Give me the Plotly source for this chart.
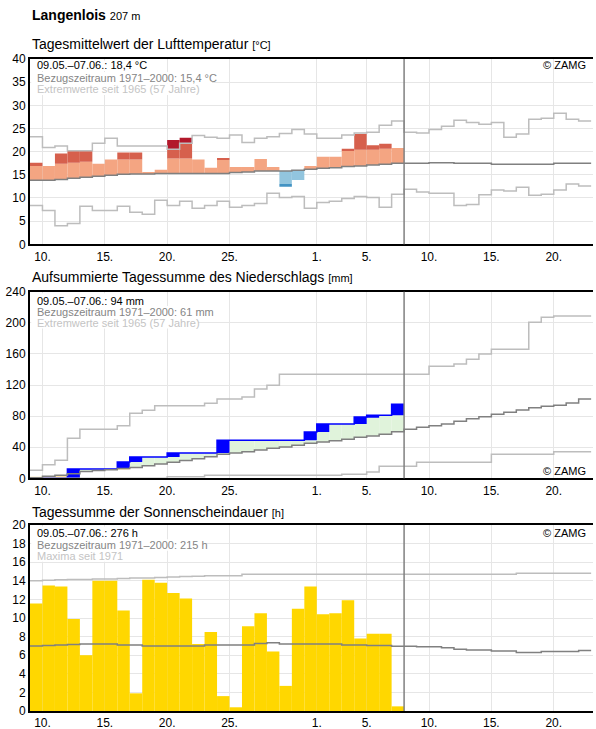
import plotly.graph_objects as go
import numpy as np

# ---------------- data ----------------
tick_vals = [1, 6, 11, 16, 23, 27, 32, 37, 42]
tick_text = ["10.", "15.", "20.", "25.", "1.", "5.", "10.", "15.", "20."]

# Temperature (°C), daily mean 09.05.-07.06.
temp = [17.6, 16.9, 19.6, 20.2, 20.2, 17.4, 18.3, 19.8, 19.8, 15.5,
        16.1, 22.5, 23.0, 18.3, 16.5, 18.6, 16.7, 16.7, 18.4, 16.7,
        12.4, 13.9, 16.9, 18.9, 18.9, 20.6, 23.8, 21.4, 21.7, 20.8]
temp_upper = [16.9, 17.0, 17.4, 17.6, 17.8, 17.9, 18.3, 18.3, 18.3, 18.4,
              18.5, 18.5, 18.5, 18.5, 18.5, 18.2, 18.6, 18.8, 18.9, 19.0,
              19.0, 19.2, 19.4, 19.6, 19.8, 20.2, 20.4, 20.4, 20.6, 20.9]
temp_lower = [10.9, 10.9, 11.1, 11.3, 11.6, 11.8, 12.0, 12.2, 12.3, 12.3,
              12.4, 12.4, 12.4, 12.4, 12.4, 12.4, 12.6, 12.7, 12.9, 12.9,
              13.0, 13.1, 13.3, 13.5, 13.6, 13.9, 14.0, 14.2, 14.4, 14.6]
temp_clim = [13.8, 13.8, 14.0, 14.25, 14.5, 14.7, 14.9, 15.1, 15.2, 15.2,
             15.3, 15.3, 15.3, 15.3, 15.3, 15.3, 15.5, 15.6, 15.8, 15.8,
             15.8, 16.0, 16.2, 16.4, 16.55, 16.8, 16.9, 17.1, 17.3, 17.5,
             17.5, 17.5, 17.6, 17.6, 17.5, 17.5, 17.5, 17.3, 17.3, 17.3,
             17.3, 17.3, 17.5, 17.5, 17.5]
temp_max = [23.2, 20.9, 21.2, 20.2, 20.2, 21.8, 22.9, 21.2, 21.2, 21.2,
            21.2, 20.5, 21.8, 23.5, 23.1, 22.9, 23.6, 22.0, 22.9, 23.2,
            23.9, 24.8, 23.8, 22.9, 22.9, 23.6, 24.0, 24.2, 25.7, 26.6,
            24.2, 24.0, 24.8, 25.5, 26.8, 26.3, 25.9, 26.3, 23.1, 23.8,
            27.0, 27.2, 28.3, 27.0, 26.6]
temp_min = [8.4, 7.3, 4.0, 4.5, 8.2, 7.3, 7.3, 8.2, 6.9, 6.5,
            9.5, 8.4, 9.3, 7.8, 8.4, 9.3, 8.0, 8.4, 8.8, 11.0,
            10.1, 10.3, 7.8, 9.0, 9.3, 9.9, 10.3, 10.1, 8.0, 10.8,
            11.9, 11.3, 11.0, 11.0, 8.4, 8.6, 10.7, 11.7, 11.5, 12.3,
            10.6, 10.8, 11.7, 13.0, 12.6]

# Precipitation (mm), daily sums, accumulated
precip_daily = [0, 0, 0, 12.0, 0, 0, 0, 9.0, 6.4, 0,
                0, 5.1, 0, 0, 0, 16.3, 0, 0, 0, 0,
                0, 0, 10.7, 10.3, 0, 0, 9.0, 2.4, 0, 14.0]
precip_clim = [0.8, 2.5, 3.8, 5.9, 8.6, 9.9, 11.1, 12.5, 14.0, 16.0,
               18.5, 20.5, 23.0, 25.3, 27.6, 31.0, 32.5, 34.2, 36.4, 38.6,
               40.3, 42.4, 45.0, 46.7, 48.4, 50.1, 52.7, 54.4, 56.6, 60.0,
               63.0, 65.6, 67.7, 69.8, 73.3, 76.7, 79.3, 82.3, 84.9, 87.8,
               90.8, 92.6, 93.9, 96.8, 102.0]
precip_max = [10.3, 17.5, 23.1, 51.4, 63.0, 63.0, 63.0, 67.7, 83.6, 87.4,
              93.4, 93.4, 93.4, 93.4, 96.4, 102.0, 102.0, 104.5, 114.7, 119.8,
              133.8, 133.8, 133.8, 133.8, 133.8, 133.8, 133.8, 133.8, 133.8, 133.8,
              133.8, 133.8, 144.0, 144.0, 147.0, 153.0, 160.0, 166.0, 166.0, 166.0,
              200.6, 207.0, 208.7, 208.7, 208.7]
precip_min = [0, 0, 0, 0, 0, 0, 0, 0, 0, 0,
              0, 2.0, 2.0, 2.0, 4.0, 4.0, 4.0, 4.0, 4.0, 4.0,
              4.0, 4.0, 4.0, 4.0, 4.0, 5.1, 5.1, 8.1, 15.5, 15.5,
              15.5, 20.5, 20.5, 20.5, 20.5, 20.5, 20.5, 30.8, 30.8, 30.8,
              30.8, 30.8, 34.2, 34.2, 34.2]

# Sunshine duration (h)
sun = [11.55, 13.5, 13.4, 9.9, 6.0, 14.0, 14.0, 10.8, 1.9, 14.1,
       13.8, 12.7, 12.1, 7.2, 8.5, 1.6, 0.4, 9.1, 10.5, 6.4,
       2.7, 11.0, 13.4, 10.4, 10.5, 11.9, 7.8, 8.3, 8.3, 0.5]
sun_clim = [7.0, 7.05, 7.1, 7.15, 7.2, 7.2, 7.2, 7.1, 7.1, 7.0,
            7.0, 7.0, 7.0, 7.0, 7.1, 7.1, 7.1, 7.1, 7.25, 7.35,
            7.2, 7.2, 7.2, 7.2, 7.2, 7.1, 7.1, 7.05, 7.05, 6.95,
            6.97, 6.9, 6.9, 6.8, 6.65, 6.55, 6.55, 6.45, 6.45, 6.3,
            6.3, 6.4, 6.4, 6.4, 6.5]
sun_max = [14.0, 14.05, 14.1, 14.15, 14.15, 14.2, 14.2, 14.25, 14.3, 14.3,
           14.35, 14.4, 14.45, 14.5, 14.55, 14.55, 14.55, 14.7, 14.7, 14.7,
           14.7, 14.7, 14.7, 14.7, 14.7, 14.7, 14.7, 14.7, 14.7, 14.7,
           14.7, 14.7, 14.7, 14.7, 14.7, 14.7, 14.7, 14.7, 14.7, 14.82,
           14.82, 14.82, 14.82, 14.82, 14.82]

# ---------------- layout helpers ----------------
W, H = 596, 729
L, R = 30, 3
FONT = "Liberation Sans, Arial, Helvetica, sans-serif"
C_CLIM = "#808080"
C_EXT = "#bdbdbd"


def py(px):
    return (H - px) / H


def pxx(px):
    return (px - L) / (W - L - R)


fig = go.Figure()


def step_line(vals, color, width, xa, ya):
    n = len(vals)
    fig.add_trace(go.Scatter(
        x=list(range(n + 1)), y=list(vals) + [vals[-1]], mode="lines",
        line=dict(color=color, width=width, shape="hv"),
        xaxis=xa, yaxis=ya, hoverinfo="skip", showlegend=False))


def bar_set(segments, color, xa, ya):
    segs = [(i, b, t) for (i, b, t) in segments if t - b > 1e-9]
    if not segs:
        return
    fig.add_trace(go.Bar(
        x=[i + 0.5 for i, _, _ in segs], y=[t - b for _, b, t in segs],
        base=[b for _, b, _ in segs], width=1,
        marker=dict(color=color, line=dict(width=0)),
        xaxis=xa, yaxis=ya, hoverinfo="skip", showlegend=False))


# ---------------- panel 1: temperature ----------------
light_r, red, dark_r, light_b, blue = [], [], [], [], []
for i, T in enumerate(temp):
    c, hi, lo, mx = temp_clim[i], temp_upper[i], temp_lower[i], temp_max[i]
    if T >= c:
        light_r.append((i, c, min(T, hi)))
        if T > hi:
            red.append((i, hi, min(T, mx)))
        if T > mx:
            dark_r.append((i, mx, T))
    else:
        light_b.append((i, max(T, lo), c))
        if T < lo:
            blue.append((i, T, lo))
bar_set(light_r, "#F4A582", "x", "y")
bar_set(red, "#D6604D", "x", "y")
bar_set(dark_r, "#B2182B", "x", "y")
bar_set(light_b, "#92C5DE", "x", "y")
bar_set(blue, "#4393C3", "x", "y")
step_line(temp_max, C_EXT, 1.5, "x", "y")
step_line(temp_min, C_EXT, 1.5, "x", "y")
step_line(temp_clim, C_CLIM, 1.5, "x", "y")

# ---------------- panel 2: precipitation ----------------
cum = np.cumsum(precip_daily)
prev = np.concatenate([[0.0], cum[:-1]])
green, yellow, blocks = [], [], []
for i in range(len(cum)):
    c = precip_clim[i]
    if prev[i] > c:
        green.append((i, c, prev[i]))
    else:
        yellow.append((i, prev[i], c))
    if precip_daily[i] > 0:
        blocks.append((i, prev[i], cum[i]))
bar_set(green, "#E0F3DB", "x2", "y2")
bar_set(yellow, "#FFE3A3", "x2", "y2")
bar_set(blocks, "#0000FF", "x2", "y2")
step_line(list(cum), "#0000FF", 1.5, "x2", "y2")
step_line(precip_max, C_EXT, 1.5, "x2", "y2")
step_line(precip_min, C_EXT, 1.5, "x2", "y2")
step_line(precip_clim, C_CLIM, 1.5, "x2", "y2")

# ---------------- panel 3: sunshine ----------------
bar_set([(i, 0, v) for i, v in enumerate(sun)], "#FFD700", "x3", "y3")
step_line(sun_max, C_EXT, 1.5, "x3", "y3")
step_line(sun_clim, C_CLIM, 1.5, "x3", "y3")

# ---------------- axes ----------------
domains = {
    1: (59, 244.3),
    2: (291.7, 478.3),
    3: (525, 711),
}
yranges = {1: ([0, 40], 5), 2: ([0, 240], 40), 3: ([0, 20], 2)}

layout = dict(
    width=W, height=H,
    margin=dict(l=L, r=R, t=0, b=0, autoexpand=False),
    paper_bgcolor="white", plot_bgcolor="white",
    font=dict(family=FONT, color="black", size=12),
    barmode="overlay", showlegend=False,
)
for k in (1, 2, 3):
    top, bot = domains[k]
    sx = "" if k == 1 else str(k)
    layout["xaxis" + sx] = dict(
        domain=[0, 1], anchor="y" + sx, range=[0, 45.15],
        tickmode="array", tickvals=tick_vals, ticktext=tick_text,
        showgrid=True, gridcolor="#e6e6e6", gridwidth=1,
        showline=True, linecolor="black", linewidth=2, mirror=True,
        ticks="", zeroline=False, tickfont=dict(size=12, color="black"),
        fixedrange=True)
    rng, dt = yranges[k]
    layout["yaxis" + sx] = dict(
        domain=[py(bot), py(top)], anchor="x" + sx, range=rng, dtick=dt,
        showgrid=True, gridcolor="#e6e6e6", gridwidth=1,
        showline=True, linecolor="black", linewidth=2,
        ticks="", zeroline=False, tickfont=dict(size=12, color="black"),
        fixedrange=True)
fig.update_layout(**layout)

# "today" vertical line
for k in (1, 2, 3):
    sx = "" if k == 1 else str(k)
    fig.add_shape(type="line", x0=30, x1=30, y0=0, y1=1,
                  xref="x" + sx, yref="y" + sx + " domain",
                  line=dict(color="#808080", width=1.5), layer="above")

# ---------------- texts ----------------
def ann(text, xpx, ypx, size=11, color="black", xanchor="left", bold=False):
    fig.add_annotation(text=text, x=pxx(xpx), y=py(ypx), xref="paper", yref="paper",
                       xanchor=xanchor, yanchor="middle", showarrow=False,
                       font=dict(size=size, color=color, family=FONT))


def white_box(x1px, y0px, y1px):
    fig.add_shape(type="rect", xref="paper", yref="paper",
                  x0=pxx(31.2), x1=pxx(x1px), y0=py(y1px), y1=py(y0px),
                  fillcolor="white", line=dict(width=0), layer="above")


ann("<b>Langenlois</b> <span style='font-size:11px'>207 m</span>", 30, 15, size=14)
ann("Tagesmittelwert der Lufttemperatur <span style='font-size:11px'>[°C]</span>", 30, 44, size=14)
ann("Aufsummierte Tagessumme des Niederschlags <span style='font-size:11px'>[mm]</span>", 30, 276.5, size=14)
ann("Tagessumme der Sonnenscheindauer <span style='font-size:11px'>[h]</span>", 30, 511.5, size=14)

info = [
    ([65.3, 77.7, 89.3], [151, 212, 197],
     ["09.05.–07.06.: 18,4 °C", "Bezugszeitraum 1971–2000: 15,4 °C", "Extremwerte seit 1965 (57 Jahre)"], 60.5),
    ([300.7, 311.7, 322.7], [139, 208, 198],
     ["09.05.–07.06.: 94 mm", "Bezugszeitraum 1971–2000: 61 mm", "Extremwerte seit 1965 (57 Jahre)"], 293.2),
    ([533.3, 545.0, 556.0], [135, 204, 118],
     ["09.05.–07.06.: 276 h", "Bezugszeitraum 1971–2000: 215 h", "Maxima seit 1971"], 526.5),
]
colors = ["black", "#858585", "#c4c4c4"]
for ys, ends, texts, top in info:
    for j in range(3):
        y0 = top if j == 0 else ys[j] - 5.8
        y1 = ys[j] + 5.8
        white_box(ends[j], y0, y1)
        ann(texts[j], 34.5, ys[j], size=11, color=colors[j])

ann("© ZAMG", 588, 65, size=11, xanchor="right")
ann("© ZAMG", 588, 471, size=11, xanchor="right")
ann("© ZAMG", 588, 533.3, size=11, xanchor="right")

fig.write_html("out.html")
